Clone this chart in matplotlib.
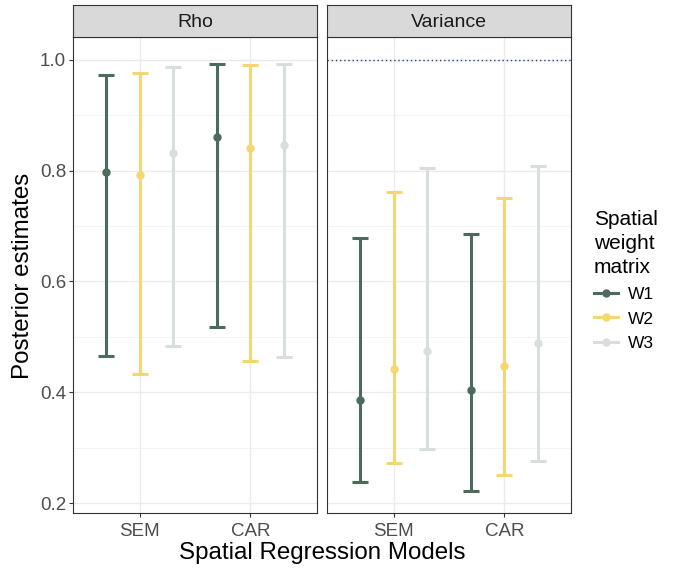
import numpy as np
import matplotlib
matplotlib.use("Agg")
import matplotlib.pyplot as plt
from matplotlib.lines import Line2D

plt.rcParams['font.family'] = ['Liberation Sans', 'DejaVu Sans']

models = ["SEM", "CAR"]
matrices = ["W1", "W2", "W3"]
colors = ["#4b6b5d", "#f4d672", "#d8dedb"]

# posterior mean, lower, upper  (per matrix, per model)
rho_mean = [[0.798, 0.861], [0.792, 0.841], [0.832, 0.847]]
rho_low = [[0.465, 0.518], [0.432, 0.456], [0.483, 0.464]]
rho_high = [[0.972, 0.992], [0.976, 0.991], [0.986, 0.993]]

var_mean = [[0.386, 0.404], [0.441, 0.447], [0.474, 0.488]]
var_low = [[0.238, 0.222], [0.273, 0.251], [0.297, 0.275]]
var_high = [[0.679, 0.685], [0.762, 0.750], [0.804, 0.808]]

panels = [("Rho", rho_mean, rho_low, rho_high),
          ("Variance", var_mean, var_low, var_high)]

fig = plt.figure(figsize=(6.75, 5.69), dpi=100)
W, H = 675, 569
lefts = [73, 327]
pw = 244
top, bottom = 37, 513
strip_h = 32

x = np.arange(len(models)) + 1
offsets = [-0.3, 0.0, 0.3]

for i, (name, mean, low, high) in enumerate(panels):
    ax = fig.add_axes([lefts[i] / W, 1 - bottom / H, pw / W, (bottom - top) / H])
    ax.set_xlim(0.4, 2.6)
    ax.set_ylim(0.182, 1.041)
    ax.set_yticks([0.2, 0.4, 0.6, 0.8, 1.0])
    ax.set_yticks([0.3, 0.5, 0.7, 0.9], minor=True)
    ax.set_xticks(x)
    ax.set_xticklabels(models)
    ax.grid(True, which='major', color='#ebebeb', lw=1.0, zorder=0)
    ax.grid(True, which='minor', axis='y', color='#f2f2f2', lw=0.6, zorder=0)
    ax.set_axisbelow(True)
    for s in ax.spines.values():
        s.set_color('#333333')
        s.set_linewidth(0.8)
    ax.tick_params(which='major', length=3, color='#333333', labelsize=13.5,
                   labelcolor='#4d4d4d', pad=2)
    ax.tick_params(axis='x', pad=4)
    ax.tick_params(which='minor', length=0)
    if i == 1:
        ax.tick_params(axis='y', labelleft=False, length=0)
        ax.axhline(1.0, color='#2b3a8c', ls=(0, (1, 2)), lw=1.0, zorder=1)
    for j in range(len(matrices)):
        xs = x + offsets[j]
        m = np.array(mean[j])
        lo = np.array(low[j])
        hi = np.array(high[j])
        ax.errorbar(xs, m, yerr=[m - lo, hi - m], fmt='o', color=colors[j],
                    ms=5, elinewidth=2.2, capsize=5.8, capthick=2.2, zorder=3)
    # strip
    sax = fig.add_axes([lefts[i] / W, 1 - top / H, pw / W, strip_h / H])
    sax.set_facecolor('#d9d9d9')
    sax.set_xticks([])
    sax.set_yticks([])
    for s in sax.spines.values():
        s.set_color('#333333')
        s.set_linewidth(0.8)
    sax.text(0.5, 0.45, name, ha='center', va='center', fontsize=14,
             color='#1a1a1a', transform=sax.transAxes)

fig.text(23 / W, 1 - 276 / H, "Posterior estimates", rotation=90,
         ha='center', va='center', fontsize=17.4)
fig.text(322 / W, 1 - 553 / H, "Spatial Regression Models",
         ha='center', va='center', fontsize=17.4)

handles = [Line2D([0], [0], color=c, lw=2.2, marker='o', ms=5) for c in colors]
leg = fig.legend(handles, matrices, loc='upper left',
                 bbox_to_anchor=(578 / W, 1 - 194 / H),
                 title="Spatial\nweight\nmatrix", frameon=False,
                 fontsize=12.5, title_fontsize=15, handlelength=1.4,
                 handletextpad=0.6, alignment='left', labelspacing=0.55)
leg.get_title().set_linespacing(1.35)

fig.savefig("out.png", dpi=100)
